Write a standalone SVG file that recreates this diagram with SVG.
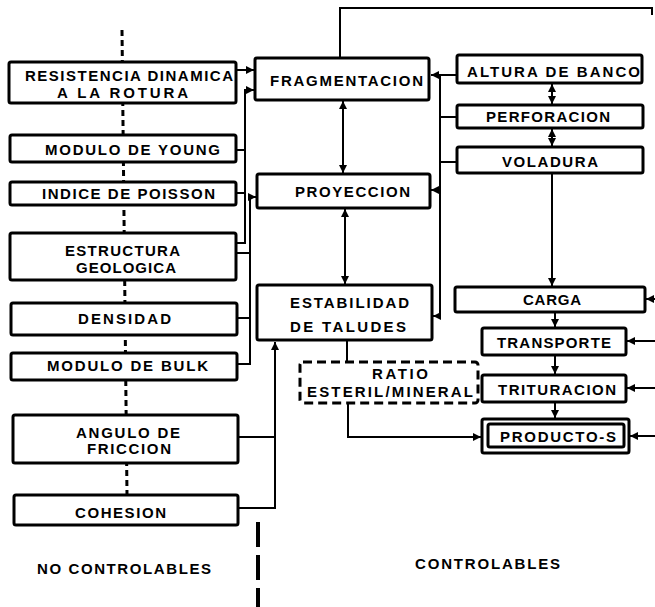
<svg xmlns="http://www.w3.org/2000/svg" width="655" height="607" viewBox="0 0 655 607">
  <style>
    .box { fill: #fff; stroke: #000; stroke-width: 3; }
    .dash { fill: #fff; stroke: #000; stroke-width: 3; stroke-dasharray: 9 5; }
    .ln { fill: none; stroke: #000; stroke-width: 2; }
    .arr { fill: none; stroke: #000; stroke-width: 2; marker-end: url(#ah); }
    .dbl { fill: none; stroke: #000; stroke-width: 2; marker-start: url(#ah); marker-end: url(#ah); }
    .t { font-family: "Liberation Sans", Arial, Helvetica, sans-serif; font-weight: bold; font-size: 15px; fill: #000; }
  </style>
  <defs>
    <marker id="ah" viewBox="0 0 10 10" refX="10" refY="5" markerWidth="9" markerHeight="8" markerUnits="userSpaceOnUse" orient="auto-start-reverse">
      <path d="M0,0 L10,5 L0,10 z" fill="#000"/>
    </marker>
  </defs>
  <rect width="655" height="607" fill="#fff"/>

  <!-- divider between uncontrollable and controllable parameters -->
  <line x1="122" y1="30" x2="127" y2="495" stroke="#000" stroke-width="3" stroke-dasharray="6 4"/>
  <line x1="258" y1="522" x2="258" y2="607" stroke="#000" stroke-width="4" stroke-dasharray="25 8"/>

  <g id="connectors">
    <!-- top return line -->
    <polyline class="ln" points="340,57 340,8 652,8 652,15"/>
    <!-- left inputs to fragmentation / projection -->
    <line class="arr" x1="237" y1="70" x2="254" y2="70"/>
    <polyline class="arr" points="245,243 245,90 254,90"/>
    <line class="ln" x1="236" y1="150" x2="245" y2="150"/>
    <line class="ln" x1="236" y1="193" x2="245" y2="193"/>
    <line class="ln" x1="236" y1="243" x2="246" y2="243"/>
    <polyline class="arr" points="250,364 250,197 256,197"/>
    <line class="ln" x1="236" y1="253" x2="250" y2="253"/>
    <line class="ln" x1="237" y1="318" x2="250" y2="318"/>
    <line class="ln" x1="237" y1="364" x2="251" y2="364"/>
    <!-- friction and cohesion to slope stability -->
    <line class="ln" x1="238" y1="437" x2="275" y2="437"/>
    <polyline class="arr" points="238,508 275,508 275,342"/>
    <!-- middle column links -->
    <line class="dbl" x1="343" y1="101" x2="343" y2="173"/>
    <line class="dbl" x1="345" y1="209" x2="345" y2="284"/>
    <!-- right bus -->
    <line class="ln" x1="457" y1="75" x2="440" y2="75"/>
    <line class="ln" x1="457" y1="117" x2="440" y2="117"/>
    <line class="ln" x1="457" y1="162" x2="440" y2="162"/>
    <line class="arr" x1="440" y1="75" x2="431" y2="75"/>
    <line class="ln" x1="440" y1="75" x2="440" y2="317"/>
    <line class="arr" x1="440" y1="190" x2="431" y2="190"/>
    <line class="arr" x1="441" y1="316" x2="433" y2="316"/>
    <!-- operations chain -->
    <line class="dbl" x1="552" y1="84" x2="552" y2="104"/>
    <line class="dbl" x1="552" y1="129" x2="552" y2="146"/>
    <line class="arr" x1="552" y1="174" x2="552" y2="286"/>
    <line class="arr" x1="555" y1="313" x2="555" y2="327"/>
    <line class="arr" x1="555" y1="356" x2="555" y2="374"/>
    <line class="arr" x1="555" y1="403" x2="555" y2="418"/>
    <!-- inputs from the right -->
    <line class="arr" x1="655" y1="299" x2="646" y2="299"/>
    <line class="arr" x1="655" y1="341" x2="627" y2="341"/>
    <line class="arr" x1="655" y1="388" x2="627" y2="388"/>
    <line class="arr" x1="655" y1="436" x2="630" y2="436"/>
    <!-- stripping ratio -->
    <line class="ln" x1="347" y1="341" x2="347" y2="362"/>
    <polyline class="arr" points="348,403 348,437 481,437"/>
  </g>

  <g id="resistencia">
    <rect class="box" x="9" y="62" width="227" height="41" rx="2"/>
    <text class="t" x="25" y="81" textLength="208" lengthAdjust="spacing">RESISTENCIA DINAMICA</text>
    <text class="t" x="57" y="98" textLength="131" lengthAdjust="spacing">A LA ROTURA</text>
  </g>
  <g id="young">
    <rect class="box" x="10" y="135" width="226" height="27" rx="2"/>
    <text class="t" x="45" y="155" textLength="175" lengthAdjust="spacing">MODULO DE YOUNG</text>
  </g>
  <g id="poisson">
    <rect class="box" x="10" y="182" width="226" height="23" rx="2"/>
    <text class="t" x="42" y="199" textLength="173" lengthAdjust="spacing">INDICE DE POISSON</text>
  </g>
  <g id="estructura">
    <rect class="box" x="10" y="233" width="226" height="47" rx="2"/>
    <text class="t" x="65" y="256" textLength="115" lengthAdjust="spacing">ESTRUCTURA</text>
    <text class="t" x="76" y="273" textLength="100" lengthAdjust="spacing">GEOLOGICA</text>
  </g>
  <g id="densidad">
    <rect class="box" x="11" y="303" width="226" height="32" rx="2"/>
    <text class="t" x="78" y="324" textLength="93" lengthAdjust="spacing">DENSIDAD</text>
  </g>
  <g id="bulk">
    <rect class="box" x="11" y="353" width="226" height="27" rx="2"/>
    <text class="t" x="47" y="371" textLength="161" lengthAdjust="spacing">MODULO DE BULK</text>
  </g>
  <g id="friccion">
    <rect class="box" x="13" y="415" width="225" height="48" rx="2"/>
    <text class="t" x="76" y="438" textLength="104" lengthAdjust="spacing">ANGULO DE</text>
    <text class="t" x="87" y="454" textLength="84" lengthAdjust="spacing">FRICCION</text>
  </g>
  <g id="cohesion">
    <rect class="box" x="14" y="495" width="224" height="30" rx="2"/>
    <text class="t" x="75" y="518" textLength="91" lengthAdjust="spacing">COHESION</text>
  </g>

  <g id="fragmentacion">
    <rect class="box" x="255" y="58" width="174" height="42" rx="2"/>
    <text class="t" x="270" y="86" textLength="153" lengthAdjust="spacing">FRAGMENTACION</text>
  </g>
  <g id="proyeccion">
    <rect class="box" x="257" y="174" width="173" height="34" rx="2"/>
    <text class="t" x="295" y="197" textLength="115" lengthAdjust="spacing">PROYECCION</text>
  </g>
  <g id="estabilidad">
    <rect class="box" x="257" y="285" width="175" height="55" rx="2"/>
    <text class="t" x="290" y="308" textLength="119" lengthAdjust="spacing">ESTABILIDAD</text>
    <text class="t" x="290" y="332" textLength="116" lengthAdjust="spacing">DE TALUDES</text>
  </g>
  <g id="ratio">
    <rect class="dash" x="300" y="362" width="178" height="41" rx="3"/>
    <text class="t" x="372" y="379" textLength="56" lengthAdjust="spacing">RATIO</text>
    <text class="t" x="307" y="397" textLength="166" lengthAdjust="spacing">ESTERIL/MINERAL</text>
  </g>

  <g id="altura">
    <rect class="box" x="457" y="55" width="185" height="28" rx="2"/>
    <text class="t" x="467" y="77" textLength="173" lengthAdjust="spacing">ALTURA DE BANCO</text>
  </g>
  <g id="perforacion">
    <rect class="box" x="457" y="105" width="186" height="23" rx="2"/>
    <text class="t" x="486" y="122" textLength="124" lengthAdjust="spacing">PERFORACION</text>
  </g>
  <g id="voladura">
    <rect class="box" x="457" y="147" width="186" height="26" rx="2"/>
    <text class="t" x="502" y="167" textLength="96" lengthAdjust="spacing">VOLADURA</text>
  </g>
  <g id="carga">
    <rect class="box" x="455" y="287" width="190" height="25" rx="2"/>
    <text class="t" x="523" y="305" textLength="58" lengthAdjust="spacing">CARGA</text>
  </g>
  <g id="transporte">
    <rect class="box" x="482" y="328" width="144" height="27" rx="2"/>
    <text class="t" x="497" y="348" textLength="114" lengthAdjust="spacing">TRANSPORTE</text>
  </g>
  <g id="trituracion">
    <rect class="box" x="482" y="375" width="144" height="27" rx="2"/>
    <text class="t" x="498" y="395" textLength="118" lengthAdjust="spacing">TRITURACION</text>
  </g>
  <g id="producto">
    <rect class="box" x="482" y="419" width="147" height="34" rx="2"/>
    <rect class="box" x="488" y="424" width="136" height="23" rx="2"/>
    <text class="t" x="500" y="442" textLength="116" lengthAdjust="spacing">PRODUCTO-S</text>
  </g>

  <g id="labels">
    <text class="t" x="37" y="574" textLength="174" lengthAdjust="spacing">NO CONTROLABLES</text>
    <text class="t" x="415" y="569" textLength="145" lengthAdjust="spacing">CONTROLABLES</text>
  </g>
</svg>
